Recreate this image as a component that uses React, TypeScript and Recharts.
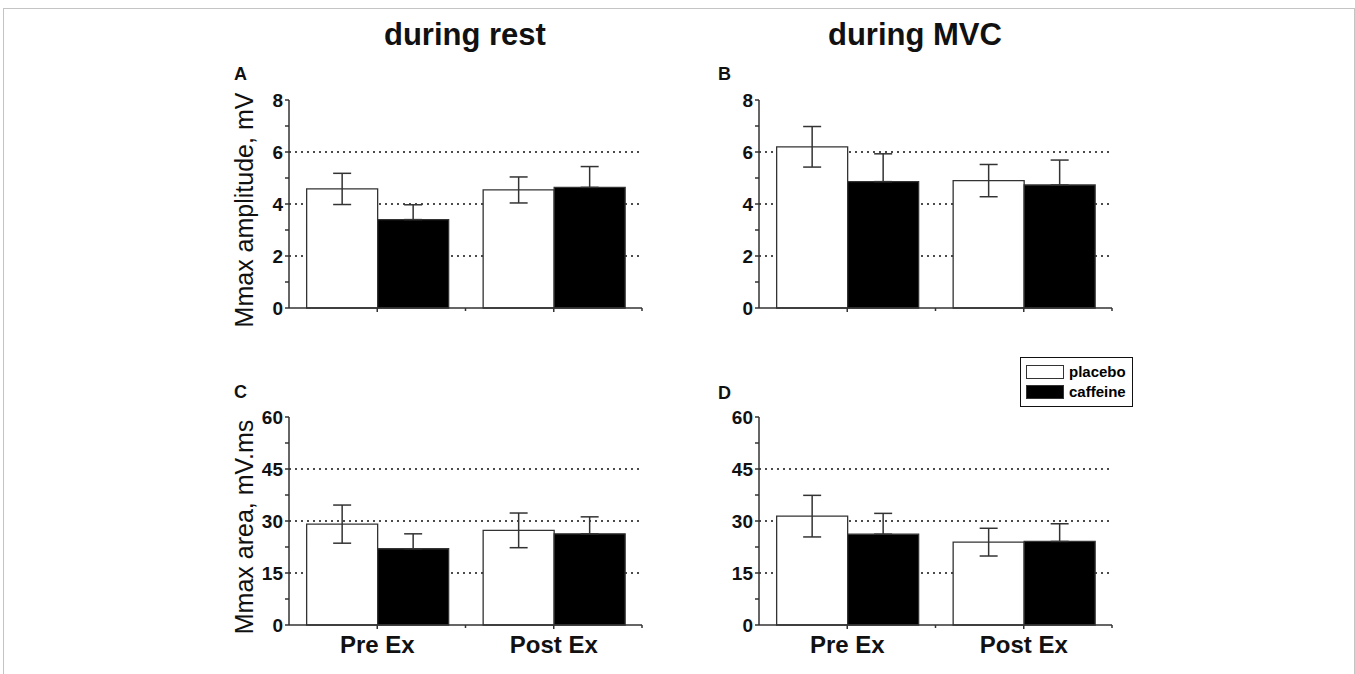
import React from "react";
import {
  BarChart,
  Bar,
  XAxis,
  YAxis,
  CartesianGrid,
  ErrorBar,
  ReferenceLine,
  Legend,
  Label,
} from "recharts";

const FONT = '"Liberation Sans", Arial, Helvetica, sans-serif';
const INK = "#333";

const categories = ["Pre Ex", "Post Ex"];
const seriesNames = ["placebo", "caffeine"];

// Mmax amplitude, mV (mean and error)
const restAmpPlacebo = [4.58, 4.54];
const restAmpPlaceboErr = [0.6, 0.5];
const restAmpCaffeine = [3.4, 4.64];
const restAmpCaffeineErr = [0.57, 0.8];
const mvcAmpPlacebo = [6.2, 4.9];
const mvcAmpPlaceboErr = [0.78, 0.62];
const mvcAmpCaffeine = [4.86, 4.73];
const mvcAmpCaffeineErr = [1.07, 0.96];

// Mmax area, mV.ms (mean and error)
const restAreaPlacebo = [29.1, 27.3];
const restAreaPlaceboErr = [5.5, 5.0];
const restAreaCaffeine = [22.0, 26.3];
const restAreaCaffeineErr = [4.3, 4.9];
const mvcAreaPlacebo = [31.4, 23.9];
const mvcAreaPlaceboErr = [6.0, 4.0];
const mvcAreaCaffeine = [26.2, 24.1];
const mvcAreaCaffeineErr = [6.0, 5.1];

const ampTicks = [0, 1, 2, 3, 4, 5, 6, 7, 8];
const ampLabels = [0, 2, 4, 6, 8];
const ampGrid = [2, 4, 6];
const areaTicks = [0, 7.5, 15, 22.5, 30, 37.5, 45, 52.5, 60];
const areaLabels = [0, 15, 30, 45, 60];
const areaGrid = [15, 30, 45];

// "$" bar: level on y, span on a 0..2 category scale
const sigRestAmp = { y: 7.5, from: 0.28, to: 1.71 };
const sigMvcAmp = { y: 7.45, from: 0.3, to: 1.73 };
const sigRestArea = { y: 50.6, from: 0.33, to: 1.76 };
const sigMvcArea = { y: 50.9, from: 0.31, to: 1.74 };

const CHART_W = 440;
const AXIS_W = 69;
const MARGIN_R = 18;
const HALF_BAND = (CHART_W - AXIS_W - MARGIN_R) / 4;

function rows(p: number[], pe: number[], c: number[], ce: number[]) {
  return categories.map((name, i) => ({
    name,
    placebo: p[i],
    placeboErr: pe[i],
    caffeine: c[i],
    // only the upper whisker shows above a black bar
    caffeineErr: [0, ce[i]],
  }));
}

function LegendBox(props: any) {
  const items = [...(props.payload || [])].sort(
    (a: any, b: any) => seriesNames.indexOf(a.value) - seriesNames.indexOf(b.value)
  );
  return (
    <div
      style={{
        border: "1.5px solid #111",
        padding: "4px 6px 4px 5px",
        background: "#fff",
        fontFamily: FONT,
        fontWeight: "bold",
        fontSize: 15,
        lineHeight: "20px",
      }}
    >
      {items.map((it: any) => (
        <div key={it.value} style={{ display: "flex", alignItems: "center" }}>
          <span
            style={{
              display: "inline-block",
              width: 36,
              height: 12,
              border: "1px solid #333",
              background: it.value === "placebo" ? "#fff" : "#000",
              marginRight: 5,
            }}
          />
          <span>{it.value}</span>
        </div>
      ))}
    </div>
  );
}

type PanelProps = {
  left: number;
  top: number;
  marginTop: number;
  xHeight: number;
  data: ReturnType<typeof rows>;
  max: number;
  ticks: number[];
  labels: number[];
  grid: number[];
  sig: { y: number; from: number; to: number };
  yTitle?: string;
  showX: boolean;
  legend?: boolean;
};

function Panel({ left, top, marginTop, xHeight, data, max, ticks, labels, grid, sig, yTitle, showX, legend }: PanelProps) {
  const height = marginTop + 208 + xHeight;
  return (
    <div style={{ position: "absolute", left, top }}>
      <BarChart
        width={CHART_W}
        height={height}
        data={data}
        margin={{ top: marginTop, right: MARGIN_R, bottom: 0, left: 0 }}
        barCategoryGap="10%"
        barGap={0}
      >
        <CartesianGrid
          vertical={false}
          horizontalValues={grid}
          stroke="#111"
          strokeDasharray="2 4"
          strokeWidth={1.3}
        />
        <XAxis
          dataKey="name"
          height={xHeight}
          interval={0}
          tickSize={4}
          tickMargin={2}
          axisLine={{ stroke: INK, strokeWidth: 1.5 }}
          tickLine={{ stroke: INK, strokeWidth: 1.5 }}
          tick={(p: any) => (
            <g>
              <line x1={p.x + HALF_BAND} x2={p.x + HALF_BAND} y1={p.y - 6} y2={p.y - 3} stroke={INK} strokeWidth={1.5} />
              {showX && (
                <text x={p.x} y={p.y + 22} textAnchor="middle" fontFamily={FONT} fontWeight="bold" fontSize={24} fill="#111">
                  {p.payload.value}
                </text>
              )}
            </g>
          )}
        />
        <XAxis xAxisId="sig" type="number" domain={[0, 2]} hide />
        <YAxis
          width={AXIS_W}
          domain={[0, max]}
          ticks={ticks}
          interval={0}
          tickSize={4}
          tickMargin={2}
          axisLine={{ stroke: INK, strokeWidth: 1.5 }}
          tickLine={{ stroke: INK, strokeWidth: 1.5 }}
          tick={(p: any) =>
            labels.includes(p.payload.value) ? (
              <text x={p.x} y={p.y} textAnchor="end" dominantBaseline="central" fontFamily={FONT} fontWeight="bold" fontSize={19} fill="#111">
                {p.payload.value}
              </text>
            ) : (
              <g />
            )
          }
        >
          {yTitle && (
            <Label
              content={(lp: any) => {
                const vb = lp.viewBox;
                const cx = vb.x + 24;
                const cy = vb.y + vb.height / 2 + 6;
                return (
                  <text
                    x={cx}
                    y={cy}
                    transform={`rotate(-90 ${cx} ${cy})`}
                    textAnchor="middle"
                    dominantBaseline="central"
                    fontFamily={FONT}
                    fontSize={25}
                    fill="#111"
                  >
                    {yTitle}
                  </text>
                );
              }}
            />
          )}
        </YAxis>
        <Bar dataKey="placebo" name="placebo" fill="#fff" stroke={INK} strokeWidth={1.3} isAnimationActive={false}>
          <ErrorBar dataKey="placeboErr" width={9} stroke={INK} strokeWidth={1.5} isAnimationActive={false} />
        </Bar>
        <Bar dataKey="caffeine" name="caffeine" fill="#000" stroke={INK} strokeWidth={1.3} isAnimationActive={false}>
          <ErrorBar dataKey="caffeineErr" width={9} stroke={INK} strokeWidth={1.5} isAnimationActive={false} />
        </Bar>
        <ReferenceLine
          xAxisId="sig"
          segment={[
            { x: sig.from, y: sig.y },
            { x: sig.to, y: sig.y },
          ]}
          stroke={INK}
          strokeWidth={1.5}
          label={(lp: any) => {
            const vb = lp.viewBox;
            return (
              <text x={vb.x + vb.width / 2} y={vb.y - 2} textAnchor="middle" fontFamily={FONT} fontWeight="bold" fontSize={19} fill="#111">
                $
              </text>
            );
          }}
        />
        {legend && (
          <Legend
            layout="vertical"
            align="center"
            verticalAlign="middle"
            wrapperStyle={{ position: "absolute", left: 330, top: 17, width: "auto" }}
            content={(lp: any) => <LegendBox payload={lp.payload} />}
          />
        )}
      </BarChart>
    </div>
  );
}

const textStyle = (left: number, top: number, size: number): React.CSSProperties => ({
  position: "absolute",
  left,
  top,
  fontFamily: FONT,
  fontWeight: "bold",
  fontSize: size,
  lineHeight: 1,
  color: "#111",
  whiteSpace: "nowrap",
});

export default function App() {
  return (
    <div style={{ position: "relative", width: 1355, height: 674, overflow: "hidden", background: "#fff" }}>
      <style>{"body{margin:0}"}</style>
      <div style={{ position: "absolute", left: 3, top: 8, width: 1350, height: 700, border: "1px solid #c4c4c4" }} />
      <div style={textStyle(384, 19, 31)}>during rest</div>
      <div style={textStyle(828, 19, 31)}>during MVC</div>
      <div style={textStyle(234, 65, 18)}>A</div>
      <div style={textStyle(718, 65, 18)}>B</div>
      <div style={textStyle(234, 383, 18)}>C</div>
      <div style={textStyle(718, 384, 18)}>D</div>
      <Panel
        left={220}
        top={60}
        marginTop={40}
        xHeight={22}
        data={rows(restAmpPlacebo, restAmpPlaceboErr, restAmpCaffeine, restAmpCaffeineErr)}
        max={8}
        ticks={ampTicks}
        labels={ampLabels}
        grid={ampGrid}
        sig={sigRestAmp}
        yTitle="Mmax amplitude, mV"
        showX={false}
      />
      <Panel
        left={690}
        top={60}
        marginTop={40}
        xHeight={22}
        data={rows(mvcAmpPlacebo, mvcAmpPlaceboErr, mvcAmpCaffeine, mvcAmpCaffeineErr)}
        max={8}
        ticks={ampTicks}
        labels={ampLabels}
        grid={ampGrid}
        sig={sigMvcAmp}
        showX={false}
      />
      <Panel
        left={220}
        top={340}
        marginTop={77}
        xHeight={50}
        data={rows(restAreaPlacebo, restAreaPlaceboErr, restAreaCaffeine, restAreaCaffeineErr)}
        max={60}
        ticks={areaTicks}
        labels={areaLabels}
        grid={areaGrid}
        sig={sigRestArea}
        yTitle="Mmax area, mV.ms"
        showX={true}
      />
      <Panel
        left={690}
        top={340}
        marginTop={77}
        xHeight={50}
        data={rows(mvcAreaPlacebo, mvcAreaPlaceboErr, mvcAreaCaffeine, mvcAreaCaffeineErr)}
        max={60}
        ticks={areaTicks}
        labels={areaLabels}
        grid={areaGrid}
        sig={sigMvcArea}
        showX={true}
        legend={true}
      />
    </div>
  );
}
